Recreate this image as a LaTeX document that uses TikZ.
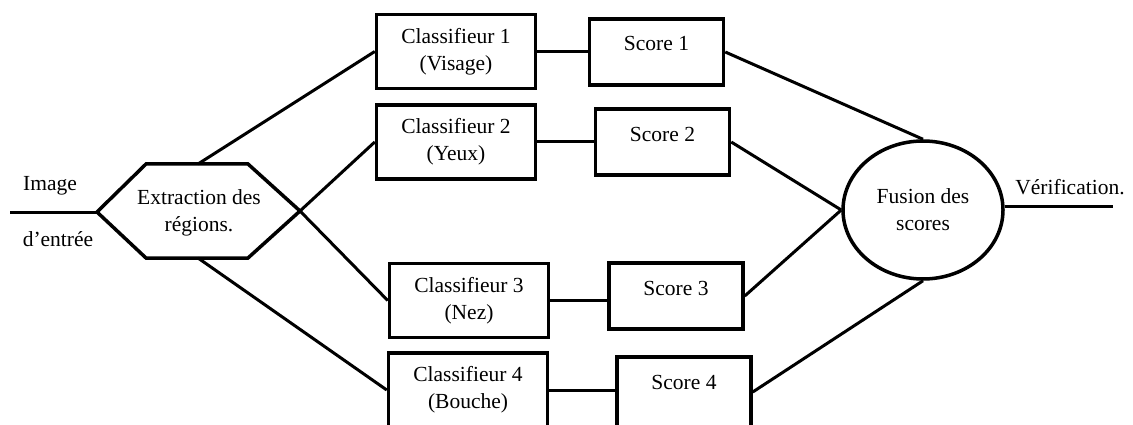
\documentclass[tikz,border=0pt]{standalone}
\usepackage{fontspec}
\newfontfamily\libserif{Liberation Serif}
\usetikzlibrary{shapes.geometric}
\begin{document}
\begin{tikzpicture}[x=1pt,y=-1pt,
  every node/.style={font=\libserif\fontsize{21.5}{27}\selectfont},
  txt/.style={align=center, inner sep=0pt},
  clsbox/.style={draw, line width=3.5pt, minimum width=159pt, minimum height=74pt,
                 inner sep=0pt, align=center},
  scorebox/.style={draw, line width=3.5pt, minimum width=134pt, minimum height=66pt, inner sep=0pt},
  link/.style={line width=3pt},
  fusion/.style={draw, ellipse, line width=3.5pt, minimum width=160pt, minimum height=138pt,
                 inner sep=0pt, align=center}
]
\useasboundingbox (0,0) rectangle (1133,425);
\clip (0,0) rectangle (1133,425);

% region extraction hexagon
\coordinate (hW) at (97,212);
\coordinate (hE) at (300,211);
\coordinate (hN) at (198,164);
\coordinate (hS) at (198,258);
\draw[line width=3.5pt, line join=miter]
  (hW) -- (146,164) -- (248,164) -- (hE) -- (248,258) -- (146,258) -- cycle;
\node[txt] (ext) at (199,213) {Extraction des\\régions.};

% input
\coordinate (in) at (10,212);
\draw[link] (in) -- (hW);
\node[txt] (img) at (50,186) {Image};
\node[txt] (entree) at (58,239) {d’entrée};

% classifiers
\node[clsbox] (c1) at (456,51.5) {Classifieur 1\\(Visage)};
\node[clsbox] (c2) at (456,142) {Classifieur 2\\(Yeux)};
\node[clsbox] (c3) at (469,300.5) {Classifieur 3\\(Nez)};
\node[clsbox] (c4) at (468,390) {Classifieur 4\\(Bouche)};

% score boxes
\node[scorebox] (s1) at (656.5,52) {};
\node[scorebox] (s2) at (662.5,142) {};
\node[scorebox] (s3) at (676,296) {};
\node[scorebox, minimum height=70pt] (s4) at (684,392) {};
\node[txt] (s1t) at (656.5,43) {Score 1};
\node[txt] (s2t) at (662.5,134) {Score 2};
\node[txt] (s3t) at (676,288) {Score 3};
\node[txt] (s4t) at (684,382) {Score 4};

% fusion
\node[fusion] (fus) at (923,210) {Fusion des\\scores};
\coordinate (out) at (1113,206);
\draw[link] (fus.east |- out) -- (out);
\node[txt] (verif) at (1070,187) {Vérification.};

% connectors
\draw[link] (hN) -- (c1.west);
\draw[link] (hE) -- (c2.west);
\draw[link] (hE) -- (c3.west);
\draw[link] (hS) -- (c4.west);
\draw[link] (c1.east) -- (c1.east -| s1.west);
\draw[link] (c2.east) -- (c2.east -| s2.west);
\draw[link] (c3.east) -- (c3.east -| s3.west);
\draw[link] (c4.east) -- (c4.east -| s4.west);
\draw[link] (s1.east) -- (fus.north);
\draw[link] (s2.east) -- (fus.west);
\draw[link] (s3.east) -- (fus.west);
\draw[link] (s4.east) -- (fus.south);
\end{tikzpicture}
\end{document}
